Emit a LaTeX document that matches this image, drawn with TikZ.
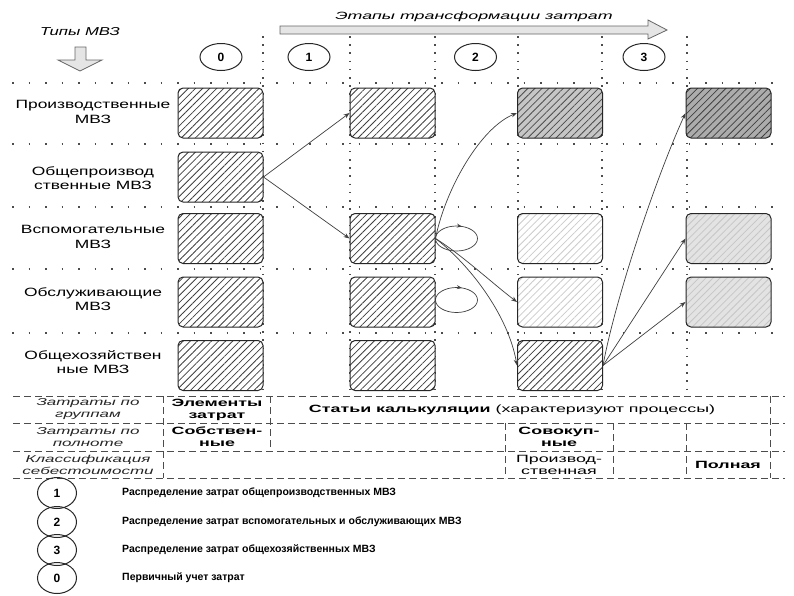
\documentclass[tikz,border=0pt]{standalone}
\usepackage{fontspec}
\setmainfont{Liberation Sans}
\newfontfamily\fa[FakeStretch=1.45]{Liberation Sans}
\newfontfamily\fc[FakeStretch=1.7]{Liberation Sans}
\usetikzlibrary{patterns.meta,arrows.meta,decorations.markings,shapes.geometric}
\newcommand\RowLbl{\fa\fontsize{12}{14.5}\selectfont}
\newcommand\TabIt{\fc\itshape\fontsize{10}{12}\selectfont}
\newcommand\TabBf{\fc\bfseries\fontsize{10.5}{12}\selectfont}
\newcommand\TabRm{\fc\fontsize{10.5}{12}\selectfont}
\begin{document}
\begin{tikzpicture}[x=1pt,y=-1pt,
  box/.style={draw=black!85, line width=1pt, rounded corners=5pt, minimum width=85pt, minimum height=50pt, inner sep=0pt},
  hw/.style={box, preaction={fill=white}, pattern={Lines[angle=45,distance=5pt,line width=0.8pt]}, pattern color=black!75},
  hmid/.style={box, preaction={fill=gray!45}, pattern={Lines[angle=45,distance=5pt,line width=0.8pt]}, pattern color=black!70},
  hdark/.style={box, preaction={fill=gray!65}, pattern={Lines[angle=45,distance=5pt,line width=0.8pt]}, pattern color=black!75},
  hlight/.style={box, preaction={fill=white}, pattern={Lines[angle=45,distance=5pt,line width=0.8pt]}, pattern color=gray!40},
  hlgray/.style={box, preaction={fill=gray!22}, pattern={Lines[angle=45,distance=5pt,line width=0.8pt]}, pattern color=gray!45},
  hdot/.style={black!70, line width=1.6pt, dash pattern=on 1.6pt off 14.9pt},
  vdot/.style={black!70, line width=1.6pt, dash pattern=on 1.6pt off 6.6pt},
  tdash/.style={black!70, line width=0.9pt, dash pattern=on 7pt off 4pt},
  conn/.style={-{Stealth[length=6pt,width=4.5pt]}, line width=0.7pt, draw=black!75},
  loopst/.style={line width=0.7pt, draw=black!75, postaction={decorate},
    decoration={markings, mark=at position 0.8 with {\arrow{Stealth[length=5pt,width=4pt]}}}},
  dcirc/.style={ellipse, draw=black!85, line width=1pt, minimum width=42pt, minimum height=27pt, inner sep=0pt, font=\bfseries\fontsize{12}{14}\selectfont},
  lcirc/.style={ellipse, draw=black!85, line width=1pt, minimum width=39pt, minimum height=31pt, inner sep=0pt, font=\bfseries\fontsize{12}{14}\selectfont},
  lgtext/.style={anchor=west, inner sep=0pt, font=\bfseries\fontsize{10.5}{12}\selectfont},
  rowlbl/.style={align=center, inner sep=0pt, font=\RowLbl},
  tit/.style={align=center, inner sep=0pt, font=\TabIt, text=black!85},
  tbf/.style={align=center, inner sep=0pt, font=\TabBf},
  trm/.style={align=center, inner sep=0pt, font=\TabRm}
]
\useasboundingbox (0,0) rectangle (794,595);
\fill[white] (0,0) rectangle (794,595);

% dotted grid
\foreach \yy in {83,144,207,269,333} \draw[hdot] (12,\yy) -- (785,\yy);
\foreach \xx in {263,350,435,518,602,687} \draw[vdot] (\xx,36) -- (\xx,394);

% header
\node[inner sep=0pt, font=\fc\itshape\fontsize{10.5}{12}\selectfont] (stages) at (474,17) {Этапы трансформации затрат};
\draw[fill=gray!20, draw=black!60, line width=0.8pt] (280,26) -- (648,26) -- (648,20) -- (667,30) -- (648,39) -- (648,34) -- (280,34) -- cycle;
\node[inner sep=0pt, font=\fa\itshape\fontsize{11.5}{13}\selectfont] (types) at (80,32) {Типы МВЗ};
\draw[fill=gray!20, draw=black!60, line width=0.8pt] (75,47) -- (86,47) -- (86,60) -- (102,60) -- (80,71) -- (58,60) -- (75,60) -- cycle;

\node[dcirc] (s0) at (221,57) {0};
\node[dcirc] (s1) at (309,57) {1};
\node[dcirc] (s2) at (475.5,57) {2};
\node[dcirc] (s3) at (644,57) {3};

% row labels
\node[rowlbl] (l1) at (93,112) {Производственные\\МВЗ};
\node[rowlbl] (l2) at (93,178) {Общепроизвод\\ственные МВЗ};
\node[rowlbl] (l3) at (93,237) {Вспомогательные\\МВЗ};
\node[rowlbl] (l4) at (93,299) {Обслуживающие\\МВЗ};
\node[rowlbl] (l5) at (93,362) {Общехозяйствен\\ные МВЗ};

% boxes
\node[hw] (b01) at (220.5,113) {};
\node[hw] (b02) at (220.5,177) {};
\node[hw] (b03) at (220.5,238.5) {};
\node[hw] (b04) at (220.5,302) {};
\node[hw] (b05) at (220.5,365.5) {};

\node[hw] (b11) at (392.5,113) {};
\node[hw] (b13) at (392.5,238.5) {};
\node[hw] (b14) at (392.5,302) {};
\node[hw] (b15) at (392.5,365.5) {};

\node[hmid] (b21) at (560,113) {};
\node[hlight] (b23) at (560,238.5) {};
\node[hlight] (b24) at (560,302) {};
\node[hw] (b25) at (560,365.5) {};

\node[hdark] (b31) at (728.5,113) {};
\node[hlgray] (b33) at (728.5,238.5) {};
\node[hlgray] (b34) at (728.5,302) {};

% connectors
\draw[conn] (b02.east) -- (b11.west);
\draw[conn] (b02.east) -- (b13.west);
\draw[conn] (b13.east) .. controls (445,190) and (480,128) .. (b21.west);
\draw[conn] (b13.east) .. controls (462,255) and (492,283) .. (b24.west);
\draw[conn] (b13.east) .. controls (470,265) and (508,315) .. (b25.west);
\draw[loopst] (b13.east) ++(21,0) ellipse [x radius=21, y radius=12.5];
\draw[loopst] (b14.east) ++(21,-2) ellipse [x radius=21, y radius=12.5];
\draw[conn] (b25.east) .. controls (615,300) and (655,180) .. (b31.west);
\draw[conn] (b25.east) -- (b33.west);
\draw[conn] (b25.east) -- (b34.west);

% table
\foreach \yy in {396,423,451,478} \draw[tdash] (13,\yy) -- (785,\yy);
\draw[tdash] (163,396) -- (163,478);
\draw[tdash] (270,396) -- (270,451);
\draw[tdash] (770,396) -- (770,478);
\foreach \xx in {505,613,686} \draw[tdash] (\xx,423) -- (\xx,478);

\node[tit] (ta1) at (88,409.5) {Затраты по\\группам};
\node[tit] (ta2) at (88,437) {Затраты по\\полноте};
\node[tit] (ta3) at (88,464.5) {Классификация\\себестоимости};
\node[tbf] (tb1) at (217,409.5) {Элементы\\затрат};
\node[tbf] (tb2) at (217,437) {Собствен-\\ные};
\node[trm] (tc1) at (512,409.5) {\bfseries Статьи калькуляции \mdseries(характеризуют процессы)};
\node[tbf] (tc2) at (559,437) {Совокуп-\\ные};
\node[trm] (tc3) at (559,464.5) {Производ-\\ственная};
\node[tbf] (td3) at (728,464.5) {Полная};

% legend
\node[lcirc] (c1) at (57,493) {1};
\node[lcirc] (c2) at (57,522) {2};
\node[lcirc] (c3) at (57,550) {3};
\node[lcirc] (c0) at (57,578) {0};
\node[lgtext] (g1) at (122,493) {Распределение затрат общепроизводственных МВЗ};
\node[lgtext] (g2) at (122,522) {Распределение затрат вспомогательных и обслуживающих МВЗ};
\node[lgtext] (g3) at (122,550) {Распределение затрат общехозяйственных МВЗ};
\node[lgtext] (g0) at (122,578) {Первичный учет затрат};
\end{tikzpicture}
\end{document}
